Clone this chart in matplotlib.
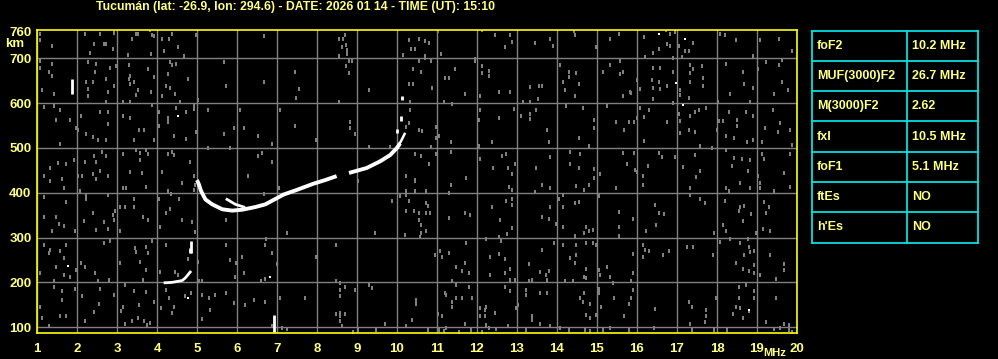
import matplotlib.pyplot as plt
import numpy as np

plt.rcParams['font.family'] = ['Liberation Sans', 'DejaVu Sans']
plt.rcParams['font.weight'] = 'bold'

title = "Tucumán (lat: -26.9, lon: 294.6) - DATE: 2026 01 14 - TIME (UT): 15:10"

# scaled parameters table
param_names = ["foF2", "MUF(3000)F2", "M(3000)F2", "fxI", "foF1", "ftEs", "h'Es"]
param_values = ["10.2 MHz", "26.7 MHz", "2.62", "10.5 MHz", "5.1 MHz", "NO", "NO"]

freq_ticks = list(range(1, 21))
height_ticks = [100, 200, 300, 400, 500, 600, 700, 760]

# F trace (MHz, km)
f_trace_freq = [5.0, 5.05, 5.1, 5.21, 5.38, 5.63, 5.88, 6.13, 6.46, 6.71, 6.96, 7.17, 7.49, 7.91, 8.2, 8.49]
f_trace_height = [428, 418, 404, 385, 374, 363, 360, 362, 368, 374, 386, 396, 406, 420, 428, 437]
f_trace2_freq = [8.8, 9.24, 9.58, 9.83, 9.99, 10.08]
f_trace2_height = [444, 455, 470, 484, 499, 510]
x_trace_freq = [9.6, 9.8, 10.0, 10.1, 10.19]
x_trace_height = [472, 482, 500, 515, 531]
f1_branch_freq = [5.75, 5.96, 6.17]
f1_branch_height = [385, 374, 368]
low_trace_freq = [4.2, 4.38, 4.63, 4.71, 4.83]
low_trace_height = [199, 200, 204, 210, 223]

# short white echoes: (freq, bottom km, top km)
echo_freq = [1.875, 6.93, 4.85, 4.83, 10.0, 10.09, 10.13]
echo_bottom = [620, 90, 266, 265, 534, 560, 607]
echo_top = [654, 128, 292, 277, 542, 570, 615]
white_dots = [(4.53, 572), (1.78, 236), (6.83, 213), (4.78, 165), (16.54, 754),
              (17.19, 743), (16.98, 644), (17.14, 596), (18.79, 139)]

# background noise (MHz, km)
noise_1_7mhz = [
    (1.08,754),(1.08,740),(1.38,727),(2.19,753),(2.58,753),(2.93,757),(2.43,732),(2.67,732),(2.73,732),(2.33,712),
    (2.89,721),(3.48,754),(3.53,753),(3.38,743),(3.83,762),(3.88,751),(3.93,749),(4.13,743),(4.29,743),(4.38,753),
    (4.53,725),(4.18,717),(3.85,710),(3.28,708),(4.68,704),(4.98,751),(6.68,749),
    (1.08,693),(1.38,687),(1.08,678),(1.29,670),(1.38,661),(2.28,691),(2.48,687),(2.83,678),(2.98,682),(2.44,670),
    (2.73,654),(2.23,648),(2.39,648),(2.28,631),(2.28,616),(2.93,637),(2.78,625),(3.29,684),(3.33,661),(3.29,654),
    (3.43,648),(3.33,643),(3.53,630),(3.48,618),(3.85,625),(3.78,675),(3.93,659),(4.33,691),(4.48,687),(4.38,684),
    (4.28,665),(4.78,654),(4.23,637),(4.33,633),(4.46,620),(4.13,616),(5.68,691),(6.68,648),(5.73,639),(1.13,628),
    (1.43,620),(2.73,603),(3.14,603),(3.33,603),(3.88,596),(4.58,603),(5.03,607),(4.93,596),
    (1.18,592),(1.43,594),(1.58,585),(1.48,563),(1.83,563),(2.1,572),(1.98,544),(2.03,540),(2.58,581),(2.78,581),
    (2.78,553),(2.23,531),(2.39,525),(2.53,518),(2.73,518),(3.14,570),(3.33,566),(3.54,540),(3.68,540),(3.43,518),
    (3.93,518),(4.04,581),(4.28,566),(4.28,558),(4.04,549),(4.43,527),(4.73,519),(4.48,589),(4.73,581),(4.93,587),
    (5.28,585),(5.68,531),(5.93,544),(6.18,544),(6.08,585),(6.53,527),(6.88,508),(7.08,585),(1.58,508),(4.98,536),
    (1.33,456),(1.53,467),(1.73,463),(1.93,472),(2.03,437),(2.13,437),(2.19,469),(2.43,482),(2.48,469),(2.63,490),
    (2.73,482),(2.58,449),(2.78,437),(2.41,441),(2.48,430),(3.14,486),(3.48,496),(3.58,488),(3.73,496),(3.78,486),
    (3.58,473),(3.63,443),(3.33,446),(4.28,486),(4.38,490),(4.43,484),(4.83,469),(4.13,446),(4.93,437),(5.03,426),
    (5.28,499),(5.83,499),(6.53,482),(6.63,488),(6.88,469),(6.28,437),(1.17,437),(1.63,431),
    (1.33,425),(1.68,410),(2.08,404),(2.23,393),(2.23,385),(2.78,395),(3.14,410),(3.23,410),(3.43,385),(3.73,413),
    (4.04,387),(4.28,404),(4.36,398),(4.63,422),(4.94,417),(1.73,380),(1.18,390),(1.48,346),(1.18,346),
    (1.38,314),(1.54,331),(1.67,325),(1.96,314),(2.17,337),(2.39,354),(2.48,316),(2.68,335),(2.78,319),(2.93,338),
    (2.89,350),(2.96,360),(3.08,368),(3.19,368),(3.43,368),(3.64,346),(3.78,340),(3.08,314),(4.08,324),(4.23,354),
    (4.33,363),(4.63,340),(4.88,335),(4.96,313),(4.54,387),(4.93,407),(5.73,340),(6.68,396),(7.04,411),(7.25,310),
    (1.17,283),(1.29,266),(1.33,273),(1.58,269),(1.67,255),(1.73,283),(2.1,243),(2.19,234),(1.98,228),(1.48,234),
    (1.08,221),(1.43,204),(1.67,216),(1.83,213),(2.44,221),(2.53,202),(2.68,288),(2.83,292),(3.08,243),(2.81,206),
    (3.19,193),(3.44,277),(3.48,268),(3.73,278),(3.78,266),(3.88,292),(3.58,246),(3.73,228),(3.64,206),(4.08,223),
    (4.23,284),(4.46,223),(4.52,216),(4.78,251),(5.03,246),(5.04,202),(5.13,204),(5.73,284),(5.83,249),
    (5.98,243),(6.13,256),(6.17,221),(5.96,211),(6.69,284),(6.88,266),(7.0,240),(6.73,296),(6.61,204),(6.69,208),
    (1.08,146),(1.43,189),(1.63,180),(1.63,161),(2.13,169),(1.94,186),(1.58,126),(1.73,126),(1.29,102),(1.13,120),
    (2.19,113),(2.54,152),(2.42,134),(2.58,186),(2.93,171),(3.11,137),(3.14,146),(3.43,181),(3.56,149),(3.73,178),
    (3.93,156),(4.1,143),(4.29,165),(4.42,146),(4.38,131),(4.23,184),(4.69,169),(4.85,176),(5.13,171),
    (5.29,164),(5.33,139),(5.13,118),(5.44,171),(5.73,176),(5.93,154),(6.19,149),(6.42,161),(6.71,156),(7.08,166),
    (6.88,102),(7.13,98),(7.25,96),(3.21,107),(3.67,113),(3.75,105),(3.83,109),(3.53,120),(3.38,113),
]
noise_7_14mhz = [
    (8.54,743),(8.65,743),(8.69,752),(8.63,725),(8.73,730),(8.75,719),(8.75,710),(8.55,704),(8.8,693),(8.88,693),
    (8.73,682),(8.79,666),(7.44,670),(7.54,631),(7.48,611),(7.44,549),(7.98,518),(8.54,603),(8.83,558),(8.83,544),
    (8.94,531),(9.29,629),(9.29,501),(10.29,740),(10.54,743),(10.69,738),(10.79,734),(10.34,721),(10.44,721),
    (10.15,707),(10.69,704),(10.69,700),(11.09,710),(11.03,760),(10.54,693),(10.84,693),(10.4,675),(10.59,670),
    (10.29,643),(10.4,643),(10.88,634),(11.19,656),(11.29,656),(11.44,675),(11.69,620),(11.17,603),(11.38,598),
    (10.33,602),(10.33,585),(10.54,540),(10.63,538),(10.23,546),(10.29,555),(10.98,547),(10.98,523),
    (11.04,527),(9.83,503),(12.13,762),(12.44,752),(12.83,752),(12.88,737),(12.69,725),(13.44,734),(11.94,699),
    (11.94,693),(12.13,682),(12.29,672),(12.13,666),(12.29,661),(12.54,625),(12.83,625),(12.08,616),(13.33,636),
    (13.54,637),(13.53,610),(13.63,637),(13.33,603),(13.15,603),(12.92,587),(13.48,585),(13.33,575),(13.09,572),
    (13.33,564),(12.54,566),(12.08,585),(12.04,563),(12.38,512),(12.04,505),(10.44,486),(10.59,481),(10.79,463),
    (11.34,512),(11.34,490),(12.63,481),(12.73,486),(12.4,454),(12.78,454),(12.96,463),(13.48,454),(12.88,441),
    (12.07,476),(11.73,432),(10.23,437),(10.44,428),(10.86,501),(10.98,486),
    (9.03,426),(10.44,426),(11.34,417),(12.79,413),(12.88,407),(13.44,402),(13.63,417),(10.08,393),(10.23,395),
    (10.23,404),(10.29,381),(10.44,404),(10.73,404),(9.88,381),(10.23,360),(10.43,359),(10.54,355),(10.73,378),
    (10.78,370),(10.73,355),(10.83,355),(10.54,340),(10.59,329),(10.59,310),(10.58,301),(10.73,314),(10.19,305),
    (9.44,310),(11.29,343),(11.69,355),(11.83,350),(11.29,400),(12.38,368),(12.58,340),(12.73,381),(12.88,387),
    (12.88,372),(12.88,322),(12.74,308),(12.54,301),(12.59,292),(13.63,346),(13.63,273),(8.48,284),(7.98,256),
    (10.94,262),(11.08,269),(11.29,266),(11.13,256),(11.73,288),(11.48,234),(11.69,243),(11.63,226),(11.79,221),
    (12.33,256),(12.54,263),(12.69,251),(12.83,230),(12.33,216),(12.69,221),(12.83,206),(12.94,206),(12.23,296),
    (13.29,240),(13.58,223),(13.38,206),(13.29,202),
    (8.48,204),(8.58,199),(8.69,189),(8.58,182),(8.58,169),(8.94,182),(9.29,193),(9.38,187),(7.69,166),(10.48,161),
    (10.48,152),(11.19,176),(11.23,171),(11.38,202),(11.48,193),(11.79,189),(11.63,166),(11.48,166),(11.38,156),
    (11.38,146),(11.88,166),(12.69,189),(12.83,180),(13.23,182),(13.23,171),(13.58,176),(13.03,150),(12.98,143),
    (8.48,129),(8.58,131),(8.58,124),(8.58,114),(8.69,129),(8.63,102),(10.38,117),(9.69,107),(10.23,102),(9.48,93),
    (9.03,93),(8.9,90),(11.03,129),(11.13,124),(11.23,98),(10.78,93),(11.05,93),(11.17,92),(11.69,107),(12.08,143),
    (12.19,139),(12.23,146),(12.08,126),(12.19,124),(12.44,131),(12.23,104),(12.3,98),(12.78,102),(12.48,95),
    (13.23,93),(13.38,124),(13.38,117),(13.58,107),(11.86,93),(11.55,90),(12.13,90),
]
noise_14_20mhz = [
    (13.83,743),(13.89,727),(14.44,751),(14.43,760),(15.33,743),(15.54,754),(14.98,725),(16.17,747),(16.19,702),
    (16.73,762),(16.83,754),(16.83,727),(16.94,758),(16.75,732),(16.54,721),(16.4,712),(17.39,734),(17.29,715),
    (17.19,717),(17.13,702),(17.04,727),(18.08,754),(18.21,751),(18.48,740),(19.08,740),(19.54,743),(18.89,706),
    (19.88,717),
    (14.08,685),(14.29,670),(14.29,657),(14.48,666),(14.54,643),(14.14,648),(14.21,630),(14.44,616),(15.33,685),
    (15.14,670),(15.58,693),(15.64,670),(15.58,665),(16.0,651),(15.82,625),(15.86,622),(16.08,631),(15.64,616),
    (16.39,678),(16.38,651),(16.39,634),(16.39,609),(16.58,679),(16.54,648),(16.58,631),(16.75,639),(16.89,700),
    (16.89,670),(17.07,630),(17.08,618),(17.29,611),(17.33,684),(17.39,675),(17.33,666),(17.63,682),(17.64,656),
    (17.64,637),(17.33,648),(18.23,688),(18.64,670),(18.33,620),(18.68,643),(18.89,634),(18.83,603),(19.03,675),
    (19.23,691),(19.54,685),(19.63,695),(19.63,648),(19.78,630),(19.42,620),(18.03,603),(16.89,600),
    (13.75,540),(13.79,513),(14.23,594),(14.65,589),(14.54,522),(14.79,505),(14.93,563),(14.93,544),(15.25,593),
    (15.48,558),(15.68,540),(15.79,558),(15.93,558),(16.0,566),(16.18,568),(16.07,589),(16.29,585),(16.75,558),
    (17.04,575),(17.08,561),(17.08,533),(17.33,572),(17.46,581),(17.54,585),(17.73,589),(17.46,536),(17.29,540),
    (18.04,561),(18.14,561),(18.29,581),(18.5,563),(18.5,549),(18.23,527),(18.43,522),(18.73,579),(18.89,570),
    (18.75,513),(18.89,517),(19.19,544),(19.39,585),(19.57,555),(19.52,536),(19.83,540),(19.88,506),(19.13,513),
    (18.0,540),(17.58,505),(16.17,515),
    (13.83,480),(14.33,491),(14.57,486),(14.54,454),(14.33,463),(14.92,452),(15.08,441),(15.64,488),(15.93,488),
    (15.75,463),(15.94,450),(16.01,446),(16.14,437),(16.27,460),(16.54,489),(16.63,480),(16.96,480),(17.14,458),
    (17.46,484),(17.58,449),(17.88,499),(18.23,495),(18.42,478),(18.63,475),(18.83,473),(18.38,460),(18.78,449),
    (19.13,486),(19.18,475),(19.83,486),(19.67,445),(19.02,437),(17.48,434),(14.92,432),
    (13.83,410),(14.48,415),(14.68,407),(14.79,417),(15.48,410),(16.14,417),(17.33,410),(18.23,410),(18.29,404),
    (18.58,422),(18.83,410),(19.08,422),(19.08,410),(19.43,404),(19.83,413),(14.14,395),(14.04,385),(14.44,378),
    (14.54,380),(15.04,393),(13.83,368),(14.14,368),(13.79,341),(13.98,331),(14.14,324),(14.44,303),(14.68,310),
    (14.79,314),(14.89,316),(14.73,324),(15.54,357),(15.54,323),(15.54,303),(15.89,341),(16.23,315),(16.44,372),
    (16.54,355),(16.68,353),(16.48,328),(17.33,395),(17.58,385),(17.69,378),(18.19,381),(17.92,310),(18.14,328),
    (18.23,314),(18.58,367),(18.68,370),(18.54,359),(18.64,337),(18.85,352),(19.18,380),(19.29,369),(19.23,354),
    (19.14,320),(19.33,314),(18.98,309),
    (13.92,288),(14.14,284),(14.48,284),(14.73,288),(14.89,288),(14.98,284),(14.33,255),(14.44,243),(14.48,260),
    (14.73,230),(14.73,210),(14.68,211),(13.79,226),(13.73,217),(13.75,206),(14.19,204),(14.39,204),(15.04,228),
    (15.25,234),(15.08,216),(15.33,211),(15.85,204),(15.89,221),(15.89,263),(16.14,284),(16.19,273),(16.29,269),
    (16.14,256),(16.64,260),(16.79,269),(17.25,278),(17.39,278),(17.89,260),(18.08,290),(18.33,296),(18.58,288),
    (18.77,296),(18.79,278),(18.67,260),(18.48,243),(18.64,230),(18.79,226),(18.93,238),(18.93,221),(18.83,268),
    (19.08,216),(19.33,260),(19.48,207),(19.68,240),(19.68,228),(18.93,269),
    (13.75,176),(14.58,166),(14.68,176),(14.64,156),(14.83,152),(14.73,128),(14.83,120),(14.98,128),(15.1,145),
    (15.04,186),(15.04,176),(15.43,166),(15.85,166),(15.9,183),(15.79,152),(15.68,124),(15.39,199),(16.44,141),
    (17.29,156),(17.38,145),(17.73,139),(17.73,124),(17.69,111),(17.32,107),(17.98,164),(18.54,189),(18.73,193),
    (18.93,180),(18.93,166),(18.54,164),(18.48,146),(18.58,143),(18.79,137),(18.64,120),(18.4,129),(19.48,166),
    (19.23,111),(19.68,107),(19.79,104),(13.83,102),(14.07,98),(14.29,93),(14.71,94),(14.83,92),(15.15,93),
    (15.33,98),(15.79,94),(16.42,98),(17.38,93),(17.92,93),(18.25,93),(19.42,97),(19.58,98),(19.79,94),(19.88,90),
]

yellow = '#ffff00'
text_col = '#ffff80'
grey = '#808080'

fig = plt.figure(figsize=(9.98, 3.59), dpi=100, facecolor='black')
ax = fig.add_axes([37 / 998, 26 / 359, 760 / 998, 303.5 / 359])
ax.set_facecolor('black')

# noise as small grey dashes
noise = np.array(noise_1_7mhz + noise_7_14mhz + noise_14_20mhz)
dash = [(-1, -1.6), (1, -1.6), (1, 1.6), (-1, 1.6)]
ax.scatter(noise[:, 0], noise[:, 1], marker=dash, s=9, c=grey, linewidths=0, zorder=2)

# echo traces
lw = 2.8
ax.plot(f_trace_freq, f_trace_height, color='white', lw=lw, solid_capstyle='butt', zorder=3)
ax.plot(f_trace2_freq, f_trace2_height, color='white', lw=lw, solid_capstyle='butt', zorder=3)
ax.plot(x_trace_freq, x_trace_height, color='white', lw=1.8, zorder=3)
ax.plot(f1_branch_freq, f1_branch_height, color='white', lw=2, zorder=3)
ax.plot(low_trace_freq, low_trace_height, color='white', lw=2, zorder=3)
ax.vlines(echo_freq, echo_bottom, echo_top, color='white', lw=2, zorder=3)
wd = np.array(white_dots)
ax.scatter(wd[:, 0], wd[:, 1], marker='s', s=4, c='white', linewidths=0, zorder=3)

ax.set_xlim(1, 20)
ax.set_ylim(87, 764)
ax.set_xticks(freq_ticks)
ax.set_yticks(height_ticks)
ax.grid(True, color=grey, lw=1, zorder=1)
ax.yaxis.get_gridlines()[-1].set_visible(False)
ax.set_axisbelow(True)
ax.tick_params(length=0, colors=text_col, labelsize=9.5, pad=7)
ax.tick_params(axis='y', pad=4)
for s in ax.spines.values():
    s.set_color(yellow)
    s.set_linewidth(1.2)

fig.text(5 / 998, 1 - 44 / 359, 'km', color=text_col, fontsize=9.5, va='center', fontweight='bold')
fig.text(775 / 998, 1 - 353 / 359, 'MHz', color=text_col, fontsize=8, va='center', ha='center', fontweight='bold')
fig.text(295 / 998, 1 - 7 / 359, title, color=text_col, fontsize=8.8, ha='center', va='center', fontweight='bold')

# parameter table
tab = fig.add_axes([812 / 998, 1 - 242.5 / 359, 165.5 / 998, 212 / 359])
tab.set_xlim(0, 165.5)
tab.set_ylim(len(param_names), 0)
tab.axis('off')
cyan = '#00e0e0'
for i in range(len(param_names) + 1):
    tab.axhline(i, color=cyan, lw=1.3, clip_on=False)
for xv in [0, 95, 165.5]:
    tab.axvline(xv, color=cyan, lw=1.3, clip_on=False)
for i, (n, v) in enumerate(zip(param_names, param_values)):
    tab.text(5, i + 0.5, n, color=text_col, fontsize=9, va='center', fontweight='bold')
    tab.text(100, i + 0.5, v, color=text_col, fontsize=9, va='center', fontweight='bold')

fig.savefig('out.png', dpi=100, facecolor='black')
